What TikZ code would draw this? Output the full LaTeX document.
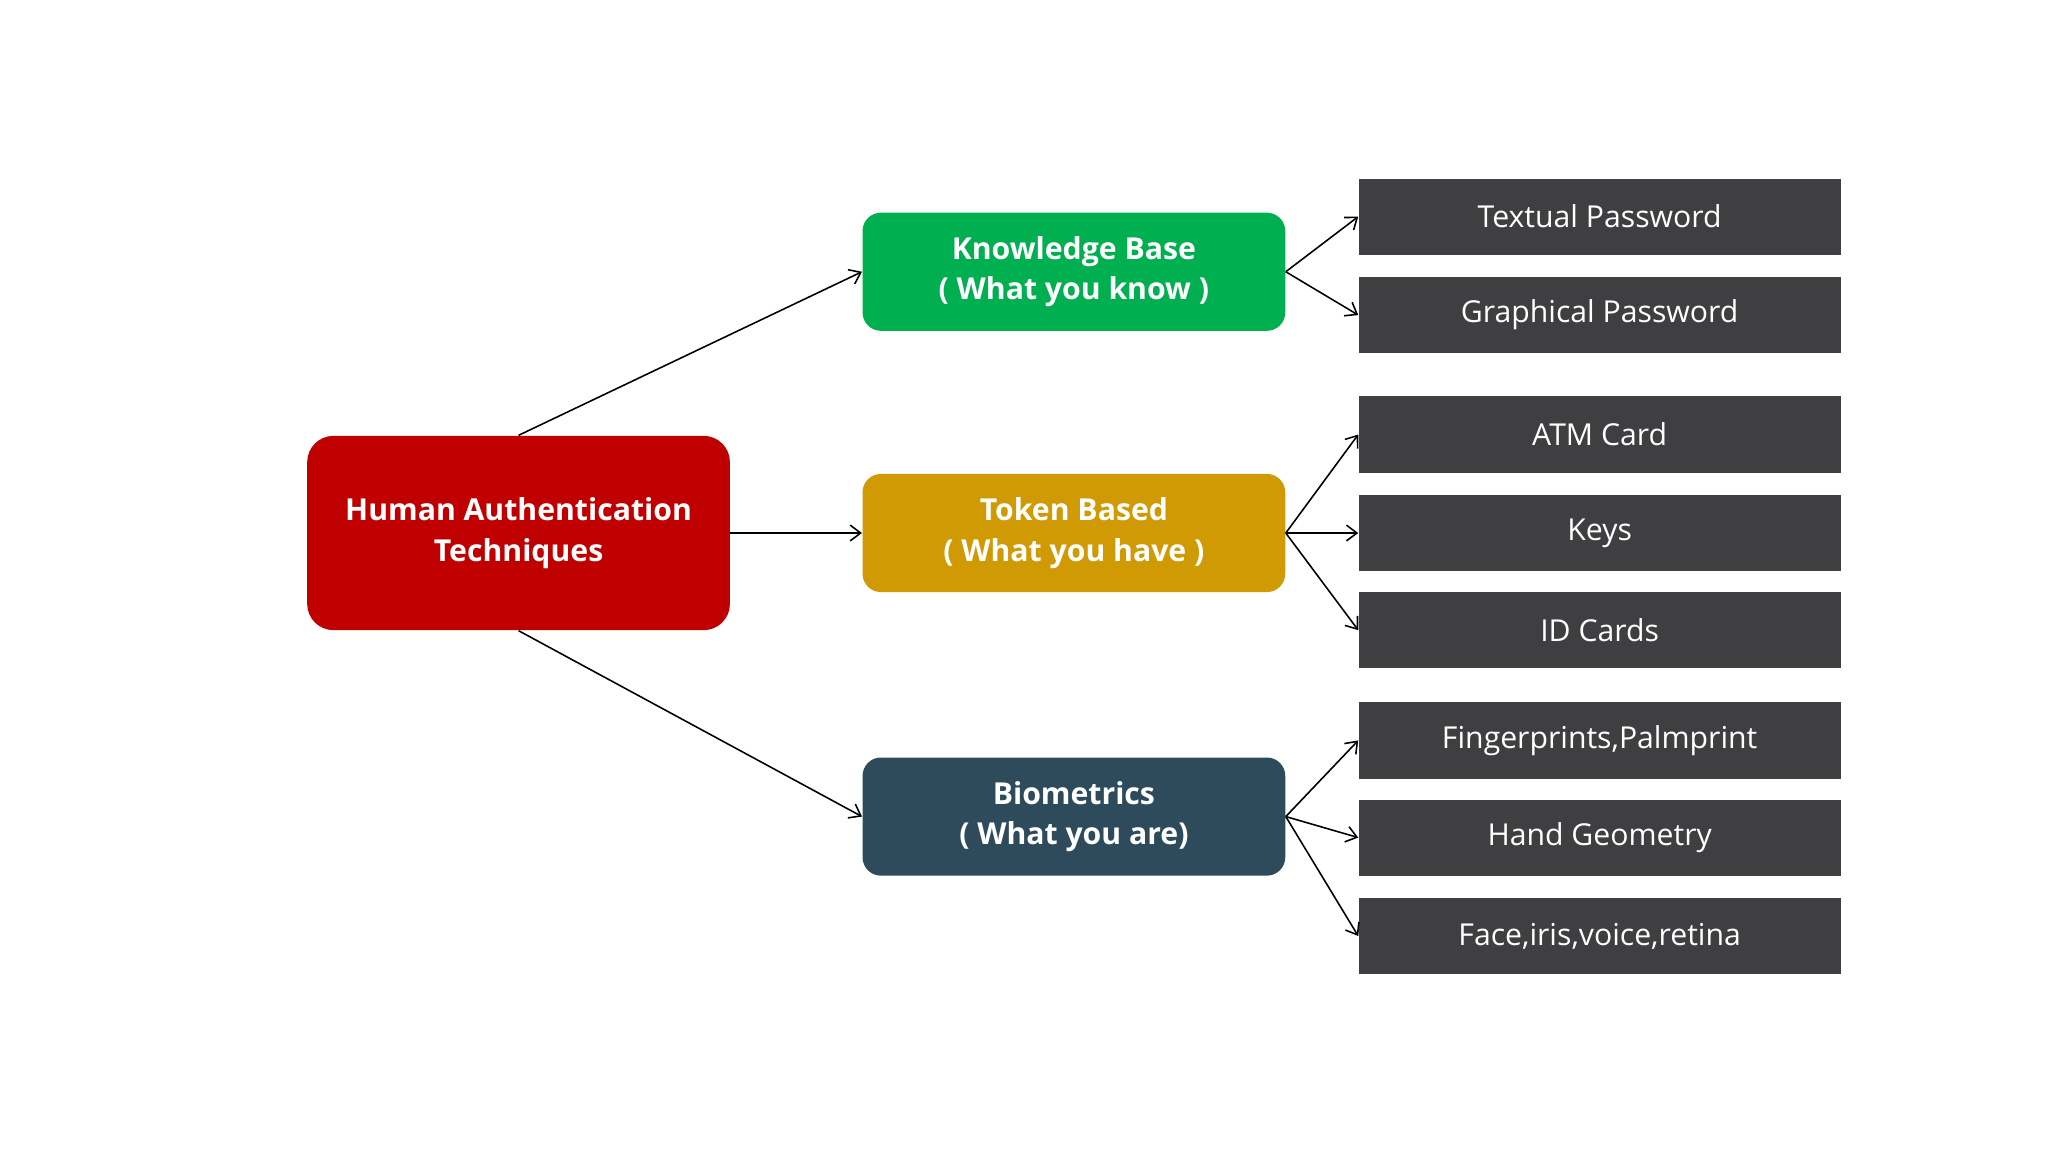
\documentclass[tikz,border=0pt]{standalone}
\usepackage{fontspec}
\setmainfont{Open Sans}
\usetikzlibrary{arrows.meta}
\definecolor{cred}{HTML}{C00000}
\definecolor{cgreen}{HTML}{00B050}
\definecolor{cgold}{HTML}{D09A05}
\definecolor{cteal}{HTML}{2E4B5C}
\definecolor{cdark}{HTML}{3F3F41}
\begin{document}
\begin{tikzpicture}[x=0.5pt,y=-0.5pt,
  cat/.style={rounded corners=7pt,minimum width=161pt,minimum height=45pt,text=white,font=\bfseries\fontsize{11.5}{15.5}\selectfont,align=center,inner sep=0pt},
  leaf/.style={fill=cdark,minimum width=183.5pt,minimum height=29pt,text=white,font=\fontsize{11.5}{14}\selectfont,inner sep=0pt},
  arr/.style={-{Straight Barb[length=4pt,width=6pt]},line width=0.6pt}]
\useasboundingbox[fill=white] (0,0) rectangle (1560,878);
\node[cat,fill=cred,minimum height=74pt,rounded corners=10pt] (h) at (395,406) {Human Authentication\\Techniques};
\node[cat,fill=cgreen] (k) at (818,207) {Knowledge Base\\( What you know )};
\node[cat,fill=cgold] (t) at (818,406) {Token Based\\( What you have )};
\node[cat,fill=cteal] (b) at (818,622) {Biometrics\\( What you are)};
\node[leaf] (l1) at (1218.5,165) {Textual Password};
\node[leaf] (l2) at (1218.5,240) {Graphical Password};
\node[leaf] (l3) at (1218.5,331) {ATM Card};
\node[leaf] (l4) at (1218.5,406) {Keys};
\node[leaf] (l5) at (1218.5,480) {ID Cards};
\node[leaf] (l6) at (1218.5,564) {Fingerprints,Palmprint};
\node[leaf] (l7) at (1218.5,638) {Hand Geometry};
\node[leaf] (l8) at (1218.5,713) {Face,iris,voice,retina};
\draw[arr] (h.north) -- (k.west);
\draw[arr] (h.east) -- (t.west);
\draw[arr] (h.south) -- (b.west);
\foreach \c/\l in {k/l1,k/l2,t/l3,t/l4,t/l5,b/l6,b/l7,b/l8} \draw[arr] (\c.east) -- (\l.west);
\end{tikzpicture}
\end{document}
